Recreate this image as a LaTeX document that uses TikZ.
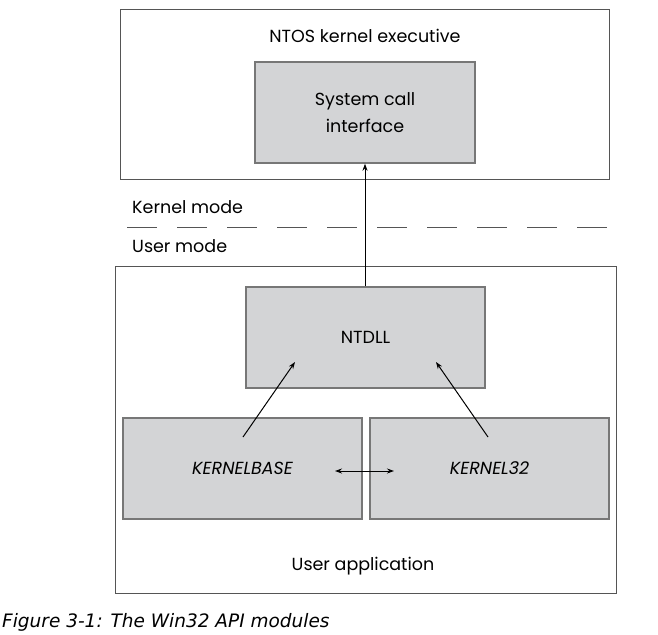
\documentclass[tikz,border=0pt]{standalone}
\usepackage{fontspec}
\setmainfont{Poppins}
\newfontfamily\capfont{DejaVu Sans}
\usetikzlibrary{arrows.meta}
\definecolor{boxfill}{HTML}{D3D4D6}
\definecolor{boxline}{HTML}{777777}
\definecolor{outline}{HTML}{555555}
\tikzset{
  outer/.style={draw=outline, line width=0.9pt, rectangle, inner sep=0pt},
  module/.style={draw=boxline, fill=boxfill, line width=1.4pt, rectangle, inner sep=0pt, align=center, font=\fontsize{17.5}{27}\selectfont},
  italmod/.style={module, font=\fontsize{17.5}{27}\selectfont\itshape},
  lbl/.style={font=\fontsize{17.5}{22}\selectfont, inner sep=0pt},
  arr/.style={-{Stealth[length=7pt,width=5pt]}, line width=1pt, black},
  darr/.style={{Stealth[length=7pt,width=5pt]}-{Stealth[length=7pt,width=5pt]}, line width=1pt, black},
}
\begin{document}
\begin{tikzpicture}[x=1pt,y=-1pt]
\useasboundingbox (0,0) rectangle (658,634);
\node[outer, minimum width=489pt, minimum height=170pt] (top) at (364.5,94) {};
\node[lbl] (ntos) at (365,36) {NTOS kernel executive};
\node[module, minimum width=220pt, minimum height=101pt] (sys) at (365,112.5) {System call\\interface};
\node[lbl, anchor=west] (km) at (132,207) {Kernel mode};
\node[lbl, anchor=west] (um) at (132,246) {User mode};
\coordinate (dl) at (127,227);
\coordinate (dr) at (610,227);
\draw[outline, line width=0.9pt, dash pattern=on 30pt off 20pt] (dl) -- (dr);
\node[outer, minimum width=501pt, minimum height=327pt] (app) at (365.5,429.5) {};
\node[module, minimum width=239pt, minimum height=101pt] (ntdll) at (365.5,337.5) {NTDLL};
\node[italmod, minimum width=239pt, minimum height=101pt] (kb) at (242.5,468.5) {KERNELBASE};
\node[italmod, minimum width=239pt, minimum height=101pt] (k32) at (489.5,468.5) {KERNEL32};
\node[lbl] (ua) at (363,566) {User application};
\node[anchor=west, inner sep=0pt, font=\capfont\fontsize{18.5}{22}\selectfont\itshape] (cap) at (2,622) {Figure 3-1: The Win32 API modules};
\draw[arr] (ntdll.north -| sys.south) -- (sys.south);
\coordinate (kbs) at (243,437);
\coordinate (kbe) at (295,362);
\coordinate (k32s) at (488,437);
\coordinate (k32e) at (436,362);
\coordinate (dal) at (335,471);
\coordinate (dar) at (394,471);
\draw[arr] (kbs) -- (kbe);
\draw[arr] (k32s) -- (k32e);
\draw[darr] (dal) -- (dar);
\end{tikzpicture}
\end{document}
